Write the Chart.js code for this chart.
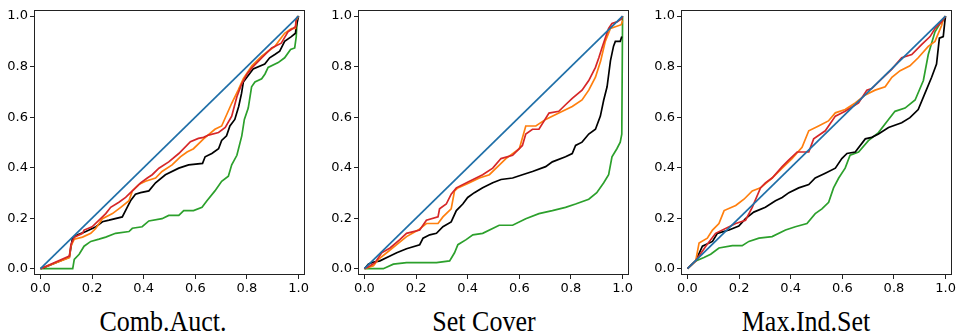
<!DOCTYPE html>
<html>
<head>
<meta charset="utf-8">
<script src="https://cdn.jsdelivr.net/npm/chart.js@4/dist/chart.umd.min.js"></script>
<style>
  html, body { margin: 0; padding: 0; background: #fff; }
  body { width: 958px; height: 335px; position: relative; overflow: hidden; }
  .panel { position: absolute; top: 0; width: 311px; height: 300px; }
  .panel canvas { width: 311px; height: 300px; }
  .caption {
    position: absolute; top: 310px; width: 240px; text-align: center;
    font-family: "Liberation Serif", "Times New Roman", serif; font-size: 26px;
    line-height: 26px; color: #000; white-space: nowrap;
    transform: scaleY(1.1); transform-origin: 50% 80%;
  }
</style>
</head>
<body>
<div class="panel" style="left:0px"><canvas id="c1" width="311" height="300"></canvas></div>
<div class="panel" style="left:324px"><canvas id="c2" width="311" height="300"></canvas></div>
<div class="panel" style="left:647px"><canvas id="c3" width="311" height="300"></canvas></div>
<div class="caption" style="left:43px">Comb.Auct.</div>
<div class="caption" style="left:364px">Set Cover</div>
<div class="caption" style="left:686px">Max.Ind.Set</div>
<script>
// Shared axis ticks
const tickValues = [0, 0.2, 0.4, 0.6, 0.8, 1.0];
const diagonal = [[0, 0], [1, 1]];

// Comb.Auct.
const combRed = [[0,0],[0.112,0.050],[0.118,0.095],[0.131,0.125],[0.163,0.140],[0.169,0.153],[0.200,0.166],[0.227,0.192],[0.253,0.218],[0.272,0.243],[0.304,0.263],[0.330,0.282],[0.356,0.308],[0.388,0.340],[0.414,0.359],[0.433,0.372],[0.459,0.398],[0.497,0.423],[0.536,0.456],[0.581,0.503],[0.612,0.516],[0.632,0.520],[0.651,0.529],[0.690,0.539],[0.716,0.559],[0.741,0.604],[0.761,0.681],[0.780,0.732],[0.800,0.770],[0.819,0.795],[0.857,0.835],[0.896,0.874],[0.933,0.893],[0.959,0.938],[0.978,0.951],[0.988,0.958],[0.991,0.990],[1,1]];
const combOrange = [[0,0],[0.112,0.044],[0.118,0.089],[0.131,0.117],[0.163,0.125],[0.195,0.140],[0.214,0.159],[0.240,0.198],[0.279,0.218],[0.311,0.243],[0.343,0.269],[0.356,0.308],[0.381,0.333],[0.407,0.346],[0.446,0.359],[0.471,0.385],[0.510,0.411],[0.542,0.443],[0.568,0.462],[0.593,0.475],[0.632,0.514],[0.676,0.552],[0.702,0.565],[0.741,0.655],[0.766,0.707],[0.786,0.752],[0.819,0.803],[0.857,0.842],[0.882,0.861],[0.908,0.880],[0.927,0.906],[0.946,0.932],[0.972,0.951],[0.988,0.951],[0.991,0.983],[1,1]];
const combBlack = [[0,0],[0.015,0.005],[0.112,0.046],[0.124,0.121],[0.144,0.134],[0.176,0.147],[0.215,0.166],[0.240,0.186],[0.266,0.192],[0.317,0.205],[0.336,0.243],[0.349,0.269],[0.368,0.295],[0.388,0.301],[0.420,0.308],[0.446,0.340],[0.484,0.372],[0.536,0.398],[0.574,0.411],[0.628,0.417],[0.638,0.443],[0.664,0.456],[0.690,0.475],[0.702,0.508],[0.721,0.526],[0.734,0.565],[0.753,0.591],[0.768,0.642],[0.779,0.694],[0.786,0.739],[0.805,0.765],[0.824,0.791],[0.869,0.810],[0.888,0.835],[0.908,0.848],[0.927,0.861],[0.946,0.900],[0.972,0.919],[0.988,0.932],[0.991,0.958],[1,1]];
const combGreen = [[0,0],[0.125,0],[0.131,0.037],[0.150,0.057],[0.169,0.089],[0.195,0.108],[0.227,0.117],[0.253,0.125],[0.291,0.140],[0.343,0.147],[0.356,0.160],[0.394,0.166],[0.420,0.189],[0.471,0.198],[0.497,0.211],[0.536,0.211],[0.555,0.230],[0.593,0.230],[0.626,0.243],[0.645,0.269],[0.676,0.308],[0.702,0.346],[0.728,0.366],[0.741,0.411],[0.761,0.449],[0.780,0.526],[0.790,0.591],[0.805,0.636],[0.818,0.720],[0.831,0.739],[0.857,0.752],[0.870,0.771],[0.882,0.797],[0.921,0.816],[0.946,0.835],[0.969,0.868],[0.985,0.874],[0.991,0.919],[0.995,0.996],[1,1]];

// Set Cover
const coverRed = [[0,0],[0.022,0.012],[0.041,0.024],[0.067,0.063],[0.099,0.082],[0.137,0.115],[0.163,0.140],[0.214,0.153],[0.240,0.192],[0.285,0.205],[0.291,0.237],[0.317,0.256],[0.336,0.295],[0.356,0.320],[0.407,0.346],[0.458,0.372],[0.497,0.398],[0.529,0.436],[0.574,0.449],[0.612,0.488],[0.625,0.533],[0.651,0.552],[0.676,0.552],[0.715,0.616],[0.753,0.623],[0.779,0.649],[0.805,0.674],[0.843,0.707],[0.869,0.745],[0.895,0.797],[0.908,0.835],[0.920,0.874],[0.933,0.913],[0.946,0.951],[0.959,0.971],[0.978,0.977],[0.997,0.990],[1,1]];
const coverOrange = [[0,0],[0.035,0.012],[0.054,0.037],[0.086,0.063],[0.125,0.095],[0.163,0.127],[0.208,0.153],[0.240,0.179],[0.285,0.179],[0.304,0.205],[0.336,0.237],[0.349,0.308],[0.362,0.320],[0.407,0.340],[0.445,0.359],[0.484,0.372],[0.548,0.436],[0.600,0.475],[0.625,0.565],[0.664,0.565],[0.702,0.591],[0.753,0.616],[0.805,0.642],[0.843,0.668],[0.869,0.707],[0.895,0.758],[0.915,0.822],[0.933,0.900],[0.953,0.951],[0.972,0.958],[0.995,0.966],[1,0.983]];
const coverBlack = [[0,0],[0.015,0.018],[0.028,0.024],[0.060,0.031],[0.099,0.050],[0.125,0.063],[0.163,0.079],[0.214,0.095],[0.227,0.121],[0.253,0.134],[0.279,0.140],[0.304,0.166],[0.336,0.185],[0.356,0.230],[0.381,0.256],[0.400,0.282],[0.426,0.301],[0.458,0.320],[0.497,0.340],[0.529,0.353],[0.574,0.359],[0.612,0.372],[0.651,0.385],[0.702,0.404],[0.728,0.423],[0.779,0.443],[0.805,0.456],[0.818,0.488],[0.843,0.501],[0.869,0.533],[0.895,0.552],[0.914,0.604],[0.927,0.668],[0.940,0.720],[0.953,0.823],[0.965,0.881],[0.972,0.900],[0.991,0.900],[0.997,0.919]];
const coverGreen = [[0,0],[0.073,0],[0.112,0.018],[0.163,0.024],[0.279,0.024],[0.330,0.031],[0.349,0.063],[0.362,0.095],[0.394,0.115],[0.420,0.134],[0.458,0.140],[0.522,0.172],[0.574,0.172],[0.625,0.198],[0.676,0.218],[0.728,0.230],[0.779,0.243],[0.818,0.256],[0.869,0.275],[0.900,0.301],[0.927,0.340],[0.946,0.372],[0.959,0.443],[0.978,0.475],[0.991,0.501],[0.997,0.533],[1,1]];

// Max.Ind.Set
const misRed = [[0,0],[0.032,0.031],[0.071,0.089],[0.109,0.140],[0.187,0.179],[0.225,0.192],[0.251,0.243],[0.283,0.320],[0.302,0.340],[0.328,0.359],[0.367,0.404],[0.392,0.430],[0.425,0.462],[0.470,0.462],[0.489,0.514],[0.534,0.546],[0.573,0.604],[0.611,0.623],[0.663,0.656],[0.695,0.707],[0.714,0.713],[0.753,0.752],[0.792,0.790],[0.830,0.835],[0.869,0.848],[0.907,0.887],[0.940,0.919],[0.959,0.951],[0.985,0.977],[1,1]];
const misOrange = [[0,0],[0.032,0.031],[0.045,0.102],[0.077,0.121],[0.097,0.153],[0.122,0.179],[0.142,0.230],[0.187,0.250],[0.219,0.275],[0.251,0.308],[0.283,0.320],[0.328,0.359],[0.367,0.398],[0.405,0.436],[0.444,0.481],[0.470,0.546],[0.508,0.565],[0.546,0.585],[0.573,0.617],[0.611,0.630],[0.650,0.656],[0.689,0.688],[0.727,0.707],[0.766,0.720],[0.792,0.758],[0.824,0.784],[0.862,0.803],[0.894,0.835],[0.933,0.880],[0.959,0.900],[0.985,0.964],[0.991,0.990],[1,1]];
const misBlack = [[0,0],[0.032,0.031],[0.058,0.089],[0.097,0.108],[0.116,0.140],[0.161,0.153],[0.199,0.169],[0.225,0.198],[0.257,0.224],[0.302,0.243],[0.341,0.269],[0.367,0.282],[0.393,0.301],[0.431,0.320],[0.470,0.333],[0.495,0.359],[0.534,0.378],[0.573,0.398],[0.598,0.436],[0.618,0.456],[0.650,0.462],[0.689,0.514],[0.714,0.520],[0.740,0.533],[0.779,0.559],[0.830,0.578],[0.862,0.598],[0.894,0.630],[0.920,0.694],[0.946,0.758],[0.965,0.810],[0.976,0.913],[0.991,0.919],[0.997,0.977],[1,1]];
const misGreen = [[0,0],[0.032,0.031],[0.064,0.044],[0.090,0.057],[0.122,0.082],[0.174,0.091],[0.212,0.091],[0.238,0.108],[0.277,0.121],[0.328,0.127],[0.380,0.153],[0.418,0.166],[0.463,0.179],[0.495,0.218],[0.521,0.237],[0.547,0.263],[0.566,0.320],[0.586,0.359],[0.611,0.398],[0.630,0.449],[0.663,0.462],[0.701,0.507],[0.740,0.539],[0.779,0.591],[0.804,0.623],[0.843,0.636],[0.882,0.668],[0.914,0.745],[0.933,0.848],[0.959,0.938],[0.978,0.970],[0.991,0.983],[1,1]];

const COLORS = { diag: '#1f6fa8', red: '#d62728', orange: '#ff7f0e', black: '#000000', green: '#2ca02c' };

const toPoints = arr => arr.map(p => ({ x: p[0], y: p[1] }));

// Box around the plotting area (all four spines)
const frame = {
  id: 'frame',
  afterDatasetsDraw(chart) {
    const a = chart.chartArea, ctx = chart.ctx;
    ctx.save();
    ctx.strokeStyle = '#222';
    ctx.lineWidth = 1;
    ctx.strokeRect(Math.round(a.left) + 0.5, Math.round(a.top) + 0.5,
                   Math.round(a.right - a.left) - 1, Math.round(a.bottom - a.top) - 1);
    ctx.restore();
  }
};

function axis(pos) {
  return {
    type: 'linear', position: pos, min: -0.025, max: 1.025,
    afterBuildTicks: s => { s.ticks = tickValues.map(v => ({ value: v })); },
    afterFit: s => { if (pos === 'left') s.width = 34; else s.height = 25; },
    grid: { drawOnChartArea: false, drawTicks: true, tickLength: 4, color: '#222', tickWidth: 1 },
    border: { display: false },
    ticks: {
      color: '#000', padding: pos === 'left' ? 2 : 2, maxRotation: 0, autoSkip: false,
      font: { family: 'DejaVu Sans', size: 13 },
      callback: v => Number(v).toFixed(1)
    }
  };
}

function makePanel(id, series) {
  const ds = series.map(([data, color]) => ({
    data: toPoints(data), borderColor: color, borderWidth: 1.7,
    pointRadius: 0, tension: 0, fill: false, showLine: true
  }));
  new Chart(document.getElementById(id), {
    type: 'scatter',
    data: { datasets: ds },
    options: {
      responsive: false, animation: false, devicePixelRatio: 1,
      layout: { padding: { top: 4, right: 4, left: 0, bottom: 0 } },
      plugins: { legend: { display: false }, tooltip: { enabled: false } },
      scales: { x: axis('bottom'), y: axis('left') }
    },
    plugins: [frame]
  });
}

makePanel('c1', [[diagonal, COLORS.diag], [combRed, COLORS.red], [combOrange, COLORS.orange], [combBlack, COLORS.black], [combGreen, COLORS.green]]);
makePanel('c2', [[diagonal, COLORS.diag], [coverRed, COLORS.red], [coverOrange, COLORS.orange], [coverBlack, COLORS.black], [coverGreen, COLORS.green]]);
makePanel('c3', [[diagonal, COLORS.diag], [misRed, COLORS.red], [misOrange, COLORS.orange], [misBlack, COLORS.black], [misGreen, COLORS.green]]);
</script>
</body>
</html>
